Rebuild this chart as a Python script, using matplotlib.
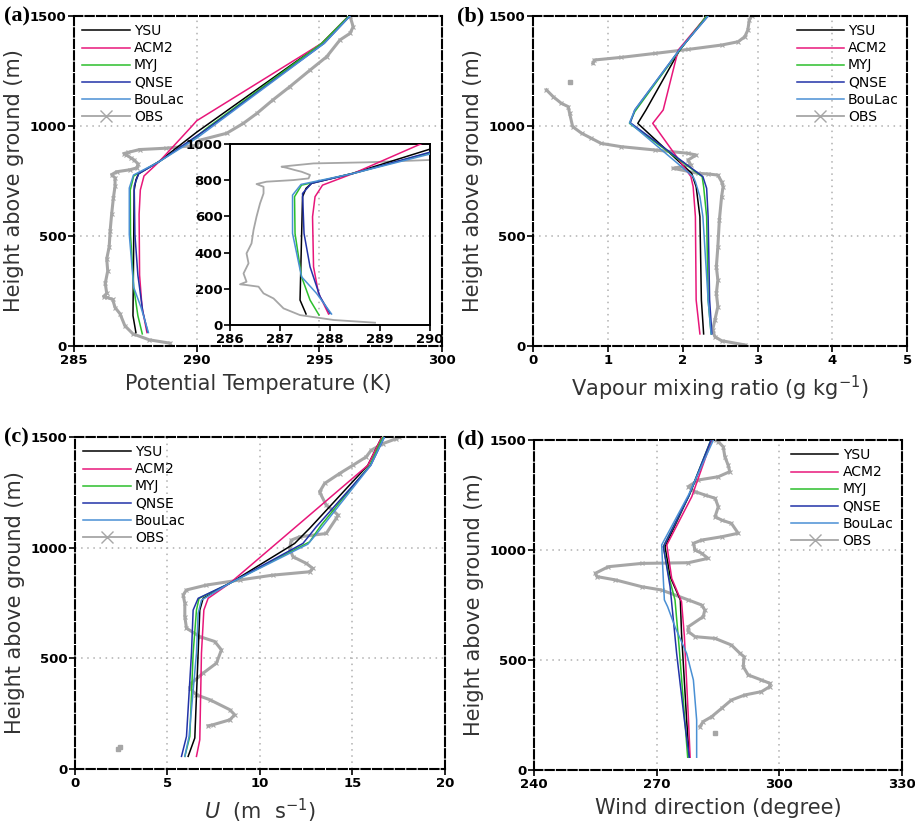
import matplotlib
matplotlib.use("Agg")
import matplotlib.pyplot as plt
from matplotlib.lines import Line2D

nan = float("nan")

# ---------------------------
# (a) potential temperature (K) vs height (m)
# ---------------------------
ysu_th = [287.52, 287.40, 287.45, 287.52, 287.63, 288.45, 290.0, 295.1, 296.2]
ysu_th_z = [61, 138, 709, 755, 783, 838, 972, 1376, 1500]
acm_th = [287.97, 287.77, 287.67, 287.65, 287.70, 287.85, 288.47, 289.81, 290.0, 295.1, 296.2]
acm_th_z = [61, 175, 322, 598, 709, 773, 838, 1000, 1024, 1376, 1500]
myj_th = [287.78, 287.60, 287.43, 287.30, 287.29, 287.43, 288.47, 290.0, 290.35, 295.1, 296.2]
myj_th_z = [55, 138, 267, 506, 709, 773, 838, 952, 985, 1376, 1500]
qnse_th = [288.0, 287.8, 287.6, 287.48, 287.45, 287.63, 288.47, 290.0, 290.4, 295.2, 296.25]
qnse_th_z = [64, 157, 322, 506, 727, 783, 838, 955, 985, 1376, 1500]
boul_th = [288.03, 287.73, 287.43, 287.25, 287.25, 287.42, 288.47, 290.0, 290.45, 295.2, 296.25]
boul_th_z = [61, 175, 267, 506, 718, 777, 838, 945, 982, 1376, 1500]
obs_th = [288.9, 288.07, 287.4, 287.07, 286.87, 286.67, 286.57, 286.33, 286.2, 286.33,
          286.27, 286.37, 286.33, 286.43, 286.47, 286.53, 286.6, 286.67, 286.67, 286.53,
          286.73, 287.27, 287.57, 287.6, 287.43, 287.3, 287.13, 287.03, 287.2, 287.67,
          288.73, 290.0, 290.14, 291.22, 291.9, 292.45, 293.1, 293.8, 294.62, 295.3,
          295.84, 296.25, 296.38, 296.25]
obs_th_z = [13, 28, 55, 92, 147, 175, 212, 221, 225, 239,
            285, 341, 396, 451, 525, 599, 672, 727, 764, 779,
            792, 801, 810, 829, 847, 856, 869, 875, 880, 893,
            899, 912, 936, 967, 1012, 1057, 1118, 1179, 1254, 1315,
            1391, 1421, 1451, 1500]

# ---------------------------
# (b) vapour mixing ratio (g/kg)
# ---------------------------
ysu_q = [2.28, 2.25, 2.23, 2.18, 2.12, 1.40, 1.51, 1.96, 2.32]
ysu_q_z = [55, 209, 588, 724, 785, 1012, 1073, 1345, 1500]
acm_q = [2.23, 2.18, 2.17, 2.14, 2.11, 1.60, 1.74, 1.94, 2.32]
acm_q_z = [55, 209, 588, 724, 770, 1012, 1073, 1345, 1500]
myj_q = [2.38, 2.34, 2.32, 2.28, 2.26, 1.29, 1.36, 1.96, 2.32]
myj_q_z = [55, 209, 588, 724, 770, 1012, 1065, 1345, 1500]
qnse_q = [2.39, 2.36, 2.34, 2.32, 2.27, 1.30, 1.36, 1.96, 2.34]
qnse_q_z = [55, 209, 588, 717, 770, 1015, 1073, 1348, 1500]
boul_q = [2.38, 2.34, 2.27, 2.23, 2.17, 2.14, 1.29, 1.36, 1.96, 2.34]
boul_q_z = [55, 209, 588, 679, 747, 770, 1015, 1073, 1348, 1500]
obs_q = [2.83, 2.52, 2.43, 2.40, 2.43, 2.47, 2.45, 2.47, 2.45, 2.47, 2.49, 2.52, 2.54,
         2.52, 2.47, 2.34, 2.20, 1.87, 2.11, 2.07, 2.18, 2.07, 1.63, 1.18, 0.91, 0.78,
         0.65, 0.53, 0.49, 0.47, 0.38, 0.27, 0.18, nan, 0.80, 0.82, 1.18, 1.63, 2.07,
         2.52, 2.74, 2.83, 2.87, 2.89, 2.92]
obs_q_z = [5, 24, 42, 73, 118, 179, 239, 300, 360, 451, 573, 679, 724,
           747, 777, 782, 785, 808, 823, 845, 868, 876, 891, 906, 921, 944,
           967, 997, 1057, 1088, 1103, 1133, 1164, nan, 1285, 1300, 1312, 1330, 1348,
           1368, 1383, 1406, 1436, 1482, 1500]
obs_q_dot = [0.49]
obs_q_dot_z = [1201]

# ---------------------------
# (c) U wind (m/s)
# ---------------------------
ysu_u = [6.12, 6.48, 6.66, 6.75, 6.93, 8.37, 11.88, 12.69, 15.84, 16.6]
ysu_u_z = [57, 140, 523, 718, 771, 839, 1019, 1087, 1372, 1500]
acm_u = [6.57, 6.75, 6.84, 6.97, 7.20, 8.37, 15.84, 16.6]
acm_u_z = [57, 132, 523, 718, 771, 839, 1372, 1500]
myj_u = [5.94, 6.21, 6.39, 6.57, 6.71, 8.37, 12.69, 13.32, 15.95, 16.65]
myj_u_z = [57, 147, 523, 718, 771, 839, 1026, 1102, 1372, 1500]
qnse_u = [5.76, 6.03, 6.30, 6.39, 6.66, 8.37, 12.33, 13.05, 16.0, 16.74]
qnse_u_z = [57, 147, 523, 718, 771, 839, 1019, 1094, 1372, 1500]
boul_u = [5.94, 6.17, 6.57, 6.66, 6.84, 8.37, 12.60, 13.23, 16.0, 16.74]
boul_u_z = [57, 147, 523, 703, 763, 839, 1016, 1079, 1372, 1500]
obs_u = [7.2, 7.47, 8.37, 8.64, 8.37, 7.29, 6.57, 6.21, 6.30, 6.93, 7.65, 7.92, 7.56,
         6.75, 6.03, 5.94, 5.94, 5.85, 6.03, 7.11, 8.91, 10.71, 12.69, 12.87, 12.51,
         11.79, 11.61, 11.7, 12.15, 13.59, 14.13, 14.23, 13.95, 13.59, 13.23, 13.5,
         14.31, 15.03, 15.75, 16.02, 16.65, 17.37, 17.55]
obs_u_z = [195, 200, 222, 245, 268, 313, 335, 365, 388, 433, 478, 538, 576,
           598, 636, 688, 748, 786, 809, 831, 854, 876, 891, 906, 929,
           959, 997, 1034, 1049, 1064, 1132, 1147, 1169, 1192, 1252, 1290,
           1335, 1372, 1410, 1440, 1470, 1492, 1500]
obs_u_dot = [2.3, 2.45]
obs_u_dot_z = [92, 98]

# ---------------------------
# (d) wind direction (degree)
# ---------------------------
ysu_d = [278.0, 277.35, 276.1, 275.8, 273.3, 272.06, 278.16, 283.45]
ysu_d_z = [58, 227, 621, 773, 879, 1015, 1257, 1500]
acm_d = [278.2, 277.8, 276.8, 276.1, 273.7, 272.5, 278.6, 283.5]
acm_d_z = [58, 227, 606, 765, 871, 1023, 1242, 1500]
myj_d = [277.6, 276.9, 275.5, 274.5, 273.0, 271.65, 277.8, 283.3]
myj_d_z = [58, 227, 561, 773, 879, 1015, 1242, 1500]
qnse_d = [278.0, 276.8, 274.9, 274.1, 273.3, 271.65, 277.8, 283.3]
qnse_d_z = [58, 227, 530, 682, 833, 1015, 1242, 1500]
boul_d = [279.8, 279.8, 279.0, 277.35, 274.5, 272.7, 271.9, 271.65, 271.24, 277.8, 283.9]
boul_d_z = [58, 227, 409, 530, 651, 742, 773, 864, 1023, 1250, 1500]
obs_d = [280.6, 281.4, 283.45, 285.9, 288.3, 291.6, 295.65, 297.7, 297.7, 295.65,
         292.4, 291.2, 291.4, 290.4, 288.3, 284.3, 279.4, 277.75, 277.75, 281.4,
         281.8, 281.0, 277.75, 271.2, 266.4, 259.9, 255.4, 255.0, 258.2, 266.4,
         277.75, 282.6, 281.0, 279.4, 279.0, 281.0, 285.9, 289.96, 288.3, 285.9,
         284.3, 285.1, 284.3, 281.8, 279.4, 277.75, 280.2, 285.1, 287.9, 287.5,
         286.7, 286.3, 285.1, 284.5]
obs_d_z = [197, 220, 242, 280, 318, 341, 356, 379, 394, 409,
           432, 470, 515, 530, 568, 598, 606, 629, 651, 697,
           727, 750, 773, 818, 833, 864, 879, 894, 924, 939,
           942, 962, 985, 1000, 1030, 1045, 1060, 1076, 1121, 1136,
           1151, 1197, 1235, 1250, 1265, 1288, 1318, 1333, 1356, 1386,
           1424, 1469, 1492, 1500]
obs_d_dot = [284.4]
obs_d_dot_z = [170]

names = ["YSU", "ACM2", "MYJ", "QNSE", "BouLac"]
colors = ["black", "#e8177a", "#2cbf2c", "#2233a8", "#4a90d4"]
obs_color = "#a6a6a6"

panels = [
    dict(models=[(ysu_th, ysu_th_z), (acm_th, acm_th_z), (myj_th, myj_th_z),
                 (qnse_th, qnse_th_z), (boul_th, boul_th_z)],
         obs=(obs_th, obs_th_z), dot=None,
         xlim=(285, 300), xticks=[285, 290, 295, 300],
         xlabel="Potential Temperature (K)", letter="(a)", loc="upper left",
         rect=[0.081, 0.5806, 0.402, 0.400], letter_x=0.004),
    dict(models=[(ysu_q, ysu_q_z), (acm_q, acm_q_z), (myj_q, myj_q_z),
                 (qnse_q, qnse_q_z), (boul_q, boul_q_z)],
         obs=(obs_q, obs_q_z), dot=(obs_q_dot, obs_q_dot_z),
         xlim=(0, 5), xticks=[0, 1, 2, 3, 4, 5],
         xlabel=r"Vapour mixing ratio (g kg$^{-1}$)", letter="(b)", loc="upper right",
         rect=[0.5825, 0.5806, 0.409, 0.400], letter_x=0.500),
    dict(models=[(ysu_u, ysu_u_z), (acm_u, acm_u_z), (myj_u, myj_u_z),
                 (qnse_u, qnse_u_z), (boul_u, boul_u_z)],
         obs=(obs_u, obs_u_z), dot=(obs_u_dot, obs_u_dot_z),
         xlim=(0, 20), xticks=[0, 5, 10, 15, 20],
         xlabel=r"$U$  (m  s$^{-1}$)", letter="(c)", loc="upper left",
         rect=[0.082, 0.0679, 0.404, 0.4024], letter_x=0.004),
    dict(models=[(ysu_d, ysu_d_z), (acm_d, acm_d_z), (myj_d, myj_d_z),
                 (qnse_d, qnse_d_z), (boul_d, boul_d_z)],
         obs=(obs_d, obs_d_z), dot=(obs_d_dot, obs_d_dot_z),
         xlim=(240, 330), xticks=[240, 270, 300, 330],
         xlabel="Wind direction (degree)", letter="(d)", loc="upper right",
         rect=[0.5836, 0.0667, 0.402, 0.400], letter_x=0.500),
]

fig = plt.figure(figsize=(9.15, 8.25), dpi=100)

for p in panels:
    ax = fig.add_axes(p["rect"])
    ox, oz = p["obs"]
    ax.plot(ox, oz, color=obs_color, lw=2.2, marker="x", ms=2.5, mew=0.8, zorder=2)
    if p["dot"] is not None:
        ax.plot(p["dot"][0], p["dot"][1], ls="none", marker="s", ms=2.5,
                color=obs_color, zorder=2)
    for (xv, zv), name, c in zip(p["models"], names, colors):
        ax.plot(xv, zv, color=c, lw=1.1, label=name, zorder=3)

    ax.set_xlim(*p["xlim"])
    ax.set_ylim(0, 1500)
    ax.set_xticks(p["xticks"])
    ax.set_yticks([0, 500, 1000, 1500])
    ax.tick_params(direction="out", length=4, width=1.2, labelsize=9.5,
                   top=False, right=False, pad=1.5)
    for lab in ax.get_xticklabels() + ax.get_yticklabels():
        lab.set_fontweight("bold")
    ax.grid(True, linestyle=(0, (1, 3)), color="#b0b0b0", lw=1.1)
    for gl in (ax.get_xgridlines()[0], ax.get_xgridlines()[-1],
               ax.get_ygridlines()[0], ax.get_ygridlines()[-1]):
        gl.set_visible(False)
    for sp in ax.spines.values():
        sp.set_linestyle((0, (4, 1.5)))
        sp.set_linewidth(1.5)
    ax.set_xlabel(p["xlabel"], fontsize=15, color="#333333", labelpad=5)
    ax.set_ylabel("Height above ground (m)", fontsize=15, color="#333333", labelpad=4)

    handles, labels = ax.get_legend_handles_labels()
    handles.append(Line2D([], [], color=obs_color, lw=1.3, marker="x", ms=9, mew=1.0))
    labels.append("OBS")
    if p["loc"] == "upper left":
        ax.legend(handles, labels, loc="upper left", bbox_to_anchor=(0.0, 1.0),
                  frameon=False, fontsize=10, handlelength=3.4, labelspacing=0.22,
                  handletextpad=0.3, borderaxespad=0.2)
    else:
        ax.legend(handles, labels, loc="upper right", bbox_to_anchor=(1.0, 1.0),
                  frameon=False, fontsize=10, handlelength=3.4, labelspacing=0.22,
                  handletextpad=0.3, borderaxespad=0.2)

    fig.text(p["letter_x"], p["rect"][1] + p["rect"][3], p["letter"],
             fontsize=16, fontweight="bold", family="Liberation Serif",
             ha="left", va="center")

# ---------------------------
# Inset of panel (a)
# ---------------------------
ins = fig.add_axes([0.2514, 0.606, 0.2186, 0.2194])
ins.patch.set_alpha(0.0)
ins.plot(obs_th, obs_th_z, color=obs_color, lw=1.3, zorder=2)
for (xv, zv), c in zip(panels[0]["models"], colors):
    ins.plot(xv, zv, color=c, lw=1.1, zorder=3)
ins.set_xlim(286, 290)
ins.set_ylim(0, 1000)
ins.set_xticks([286, 287, 288, 289, 290])
ins.set_yticks([0, 200, 400, 600, 800, 1000])
ins.tick_params(direction="out", length=4, width=1.2, labelsize=9.5, pad=1.5)
for lab in ins.get_xticklabels() + ins.get_yticklabels():
    lab.set_fontweight("bold")
for sp in ins.spines.values():
    sp.set_linewidth(1.4)

plt.savefig("out.png", dpi=100)
